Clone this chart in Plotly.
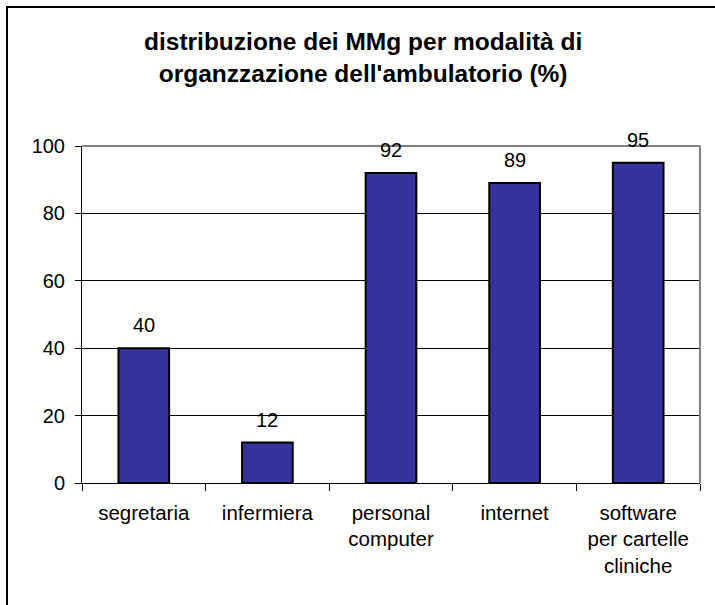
import plotly.graph_objects as go

categories = ["segretaria", "infermiera", "personal<br>computer", "internet", "software<br>per cartelle<br>cliniche"]
values = [40, 12, 92, 89, 95]
y_ticks = [0, 20, 40, 60, 80, 100]
title_text = "distribuzione dei MMg per modalità di<br>organzzazione dell'ambulatorio (%)"

W, H = 715, 605
L, R, T, B = 82, 700, 146, 483

def px_x(p):
    return (p - L) / (R - L)

def px_y(p):
    return (B - p) / (B - T)

FONT = "Arial, 'Liberation Sans', sans-serif"

fig = go.Figure()
fig.add_trace(go.Bar(
    x=categories, y=values, width=0.41,
    marker=dict(color="#333399", line=dict(color="black", width=2)),
    showlegend=False, hoverinfo="skip",
))

for c, v in zip(categories, values):
    fig.add_annotation(x=c, y=v, text=str(v), showarrow=False, yanchor="bottom",
                       yshift=10, font=dict(family=FONT, size=20, color="black"))

fig.add_annotation(xref="paper", yref="paper", x=px_x(363), y=px_y(57), xanchor="center",
                   yanchor="middle", showarrow=False, text="<b>" + title_text + "</b>",
                   font=dict(family=FONT, size=24.5, color="black"))

shapes = [
    dict(type="line", xref="paper", yref="paper", x0=0, x1=1, y0=1, y1=1,
         line=dict(color="#808080", width=2)),
    dict(type="line", xref="paper", yref="paper", x0=1, x1=1, y0=0, y1=1,
         line=dict(color="#808080", width=2)),
    dict(type="line", xref="paper", yref="paper", x0=px_x(7), x1=px_x(7), y0=px_y(6), y1=px_y(605),
         line=dict(color="black", width=2)),
    dict(type="line", xref="paper", yref="paper", x0=px_x(6), x1=px_x(715), y0=px_y(7), y1=px_y(7),
         line=dict(color="black", width=2)),
]

fig.update_layout(
    width=W, height=H,
    margin=dict(l=L, r=W - R, t=T, b=H - B, pad=0),
    paper_bgcolor="white", plot_bgcolor="white",
    font=dict(family=FONT, size=20, color="black"),
    shapes=shapes,
    bargap=0.59,
)
fig.update_xaxes(
    showline=True, linecolor="black", linewidth=1,
    ticks="outside", tickson="boundaries", ticklen=7, tickcolor="black", tickwidth=1,
    showgrid=False, tickfont=dict(family=FONT, size=20.5, color="black"),
    ticklabelstandoff=11,
)
fig.update_yaxes(
    range=[0, 100], tickvals=y_ticks, ticktext=[str(t) for t in y_ticks],
    showline=True, linecolor="black", linewidth=1,
    ticks="outside", ticklen=6, tickcolor="black", tickwidth=1,
    showgrid=True, gridcolor="black", gridwidth=1, zeroline=False,
    tickfont=dict(family=FONT, size=20, color="black"),
    ticklabelstandoff=6,
)

fig.write_html("out.html", config={"displayModeBar": False},
               post_script="document.body.style.margin='0px';document.body.style.overflow='hidden';")
